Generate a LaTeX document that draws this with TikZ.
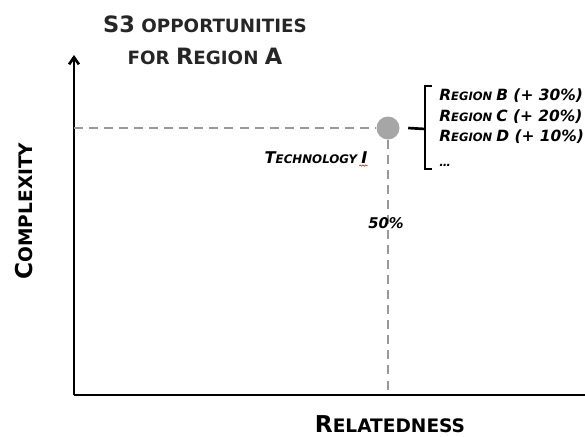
\documentclass[tikz,border=0pt]{standalone}
\usepackage{fontspec}
\setmainfont{DejaVu Sans}
\usetikzlibrary{arrows.meta, positioning, calc, decorations.pathmorphing}
\definecolor{dotgray}{RGB}{166,166,166}
\definecolor{guidegray}{RGB}{153,153,153}
\newcommand{\lettr}[2]{{\fontsize{#1}{#1}\selectfont #2}}

\begin{document}
\begin{tikzpicture}[x=0.025cm, y=0.025cm,
  axis/.style={line width=1.9pt, black},
  guide/.style={guidegray, line width=1.8pt, dash pattern=on 6.4pt off 4.3pt},
  ttl/.style={anchor=base, inner sep=0pt, text=black!85, font=\bfseries\fontsize{13}{16}\selectfont},
  axlbl/.style={anchor=base, inner sep=0pt, font=\bfseries\fontsize{13.2}{16}\selectfont},
  itm/.style={anchor=base west, inner sep=0pt, font=\bfseries\itshape\fontsize{8.2}{10}\selectfont}
]
  \useasboundingbox (-74,-41) rectangle (511,395);

  % axes
  \coordinate (o) at (0,0);
  \coordinate (ytop) at (0,340);
  \coordinate (xend) at (511,0);
  \draw[axis, -{Straight Barb[length=5pt,width=7pt]}] (o) -- (ytop);
  \draw[axis] (o) -- (xend);
  \node[axlbl, rotate=90] (ylbl) at (-41,184) {\lettr{16.5}{C}OMPLEXITY};
  \node[axlbl] (xlbl) at (316,-37) {\lettr{16.5}{R}ELATEDNESS};

  % title
  \node[ttl] (title1) at (131,362) {\lettr{16}{S3} OPPORTUNITIES};
  \node[ttl] (title2) at (131,330) {FOR \lettr{16}{R}EGION \lettr{16}{A}};

  % the technology and its guide lines
  \node[circle, fill=dotgray, inner sep=0pt, minimum size=23*0.025cm] (dot) at (314,267) {};
  \coordinate (yhit) at (0,267);
  \coordinate (xhit) at (314,0);
  \draw[guide] (yhit) -- (dot.west);
  \draw[guide] (dot.south) -- (xhit);
  \node[itm, anchor=base, font=\bfseries\itshape\fontsize{8.4}{10}\selectfont] (tech) at (242,232) {\lettr{11.5}{T}ECHNOLOGY \lettr{11.5}{I}};
  \draw[red, line width=0.4pt, decorate, decoration={snake, amplitude=0.5pt, segment length=2pt}]
    ([xshift=-6pt,yshift=-1.8pt]tech.base east) -- ([yshift=-1.8pt]tech.base east);
  \node[font=\bfseries\itshape\fontsize{10.5}{12}\selectfont, inner sep=0pt] (share) at (312,172) {50\%};

  % bracket with the other regions
  \coordinate (stub) at (351,266);
  \draw[axis] ([xshift=6pt]dot.east) -- (stub);
  \draw[axis] (358,309) -- (351,309) -- (351,226) -- (358,226);
  \node[itm] (regb) at (365,294) {\lettr{11}{R}EGION \lettr{11}{B (+ 30\%)}};
  \node[itm] (regc) at (365,274) {\lettr{11}{R}EGION \lettr{11}{C (+ 20\%)}};
  \node[itm] (regd) at (365,254) {\lettr{11}{R}EGION \lettr{11}{D (+ 10\%)}};
  \node[itm] (more) at (365,229) {\ldots};
\end{tikzpicture}
\end{document}
